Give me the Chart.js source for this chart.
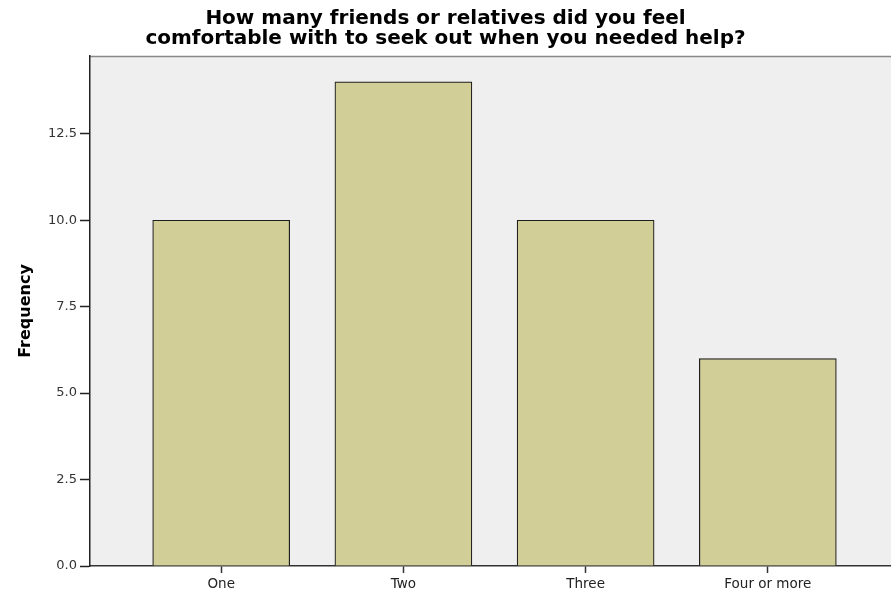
<!DOCTYPE html>
<html>
<head>
<meta charset="utf-8">
<script src="https://cdn.jsdelivr.net/npm/chart.js@4/dist/chart.umd.min.js"></script>
<style>
html,body{margin:0;padding:0;background:#fff;}
#wrap{width:891px;height:592px;position:relative;}
</style>
</head>
<body>
<div id="wrap"><canvas id="c" width="891" height="592"></canvas></div>
<script>
const titleLines = ["How many friends or relatives did you feel", "comfortable with to seek out when you needed help?"];
const yAxisTitle = "Frequency";
const categories = ["One", "Two", "Three", "Four or more"];
const frequencies = [10, 14, 10, 6];
const yTickValues = [0, 2.5, 5, 7.5, 10, 12.5];

const FONT = "'DejaVu Sans', 'Liberation Sans', Arial, sans-serif";

const plotBg = {
  id: 'plotBg',
  beforeDraw(chart) {
    const {ctx, chartArea: a} = chart;
    ctx.save();
    ctx.fillStyle = '#efefef';
    ctx.fillRect(a.left, a.top, a.right - a.left, a.bottom - a.top);
    ctx.strokeStyle = '#888';
    ctx.lineWidth = 1.5;
    ctx.beginPath();
    ctx.moveTo(a.left, a.top + 0.5);
    ctx.lineTo(a.right, a.top + 0.5);
    ctx.stroke();
    ctx.restore();
  }
};

new Chart(document.getElementById('c'), {
  type: 'bar',
  data: {
    datasets: [{
      data: frequencies.map((v, i) => ({x: i + 1, y: v})),
      backgroundColor: '#d2ce98',
      borderColor: '#1e1e1e',
      borderWidth: 1.2,
      barThickness: 137
    }]
  },
  options: {
    responsive: false,
    animation: false,
    layout: {padding: {top: 0, right: 0, bottom: 0, left: 0}},
    plugins: {
      legend: {display: false},
      tooltip: {enabled: false},
      title: {
        display: true,
        text: titleLines,
        color: '#000',
        font: {family: FONT, size: 20, weight: 'bold', lineHeight: 1.0},
        padding: {top: 9, bottom: 7}
      }
    },
    scales: {
      x: {
        type: 'linear',
        offset: false,
        min: 0.28,
        max: 4.676,
        afterBuildTicks(s) { s.ticks = categories.map((c, i) => ({value: i + 1})); },
        afterFit(s) { s.height = 26; },
        ticks: {
          callback: (v) => categories[Math.round(v) - 1] || '',
          color: '#222',
          font: {family: FONT, size: 13.5},
          padding: 3,
          autoSkip: false,
          maxRotation: 0
        },
        grid: {offset: false, drawOnChartArea: false, drawTicks: true, tickLength: 7, color: '#333', tickWidth: 1.5},
        border: {display: true, color: '#333', width: 1.5}
      },
      y: {
        min: 0,
        max: 14.75,
        afterBuildTicks(s) { s.ticks = yTickValues.map(v => ({value: v})); },
        afterFit(s) { s.width = 90; },
        title: {
          display: true,
          text: yAxisTitle,
          color: '#000',
          font: {family: FONT, size: 16, weight: 'bold', lineHeight: 1.2},
          padding: {top: 16, bottom: 0}
        },
        ticks: {
          callback: (v) => Number(v).toFixed(1),
          color: '#333',
          font: {family: FONT, size: 13},
          padding: 3
        },
        grid: {drawOnChartArea: false, drawTicks: true, tickLength: 10, color: '#222', tickWidth: 1.5},
        border: {display: true, color: '#222', width: 1.5}
      }
    }
  },
  plugins: [plotBg]
});
</script>
</body>
</html>
